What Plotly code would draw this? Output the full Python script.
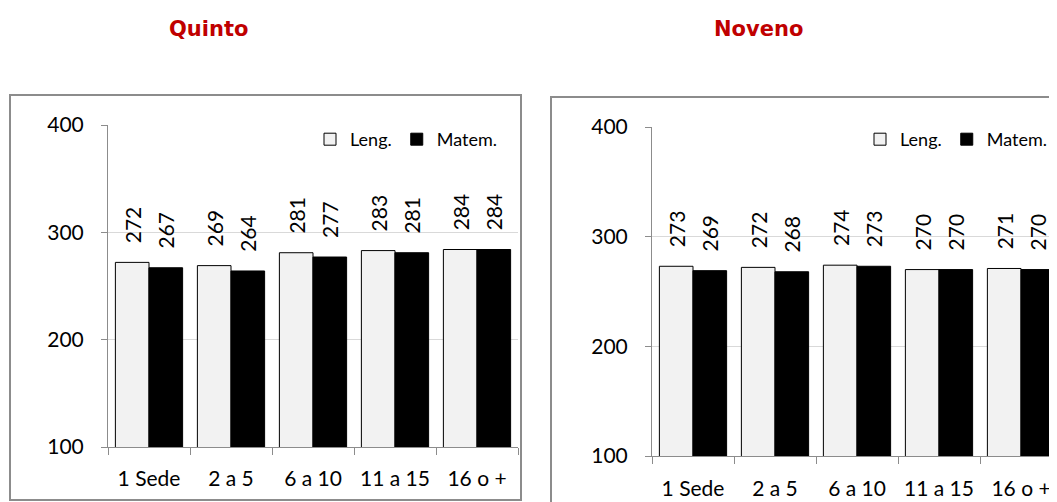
import plotly.graph_objects as go

categories = ["1 Sede", "2 a 5", "6 a 10", "11 a 15", "16 o +"]
quinto_leng = [272, 269, 281, 283, 284]
quinto_matem = [267, 264, 277, 281, 284]
noveno_leng = [273, 272, 274, 270, 271]
noveno_matem = [269, 268, 273, 270, 270]

# The page body has an 8px margin, so the figure starts at (8, 8) in the window.
OFF = 8
W, H = 1057 - OFF, 502 - OFF
def px(x):
    return (x - OFF) / W
def py(y):
    return (H - (y - OFF)) / H

FONT = "Lato"
LENG_COLOR = "#f2f2f2"
MATEM_COLOR = "#000000"
AXIS_COLOR = "#8c8c8c"

fig = go.Figure()

def add_pair(leng, matem, xa, ya, legend):
    for name, vals, col in (("Leng.", leng, LENG_COLOR), ("Matem.", matem, MATEM_COLOR)):
        fig.add_trace(go.Bar(
            x=categories, y=vals, name=name, xaxis=xa, yaxis=ya,
            marker=dict(color=col, line=dict(color="#000000", width=1)),
            text=vals, texttemplate="\u00a0\u00a0\u00a0%{y}", textposition="outside",
            textangle=-90, constraintext="none", cliponaxis=False,
            textfont=dict(family=FONT, size=21, color="#000000"),
            legend=legend, showlegend=True,
        ))

add_pair(quinto_leng, quinto_matem, "x", "y", "legend")
add_pair(noveno_leng, noveno_matem, "x2", "y2", "legend2")

axis_common = dict(showline=True, linecolor=AXIS_COLOR, linewidth=1,
                   ticks="outside", tickcolor=AXIS_COLOR, automargin=False,
                   tickfont=dict(family=FONT, size=21, color="#000000"))

legend_common = dict(orientation="h", yanchor="top", xanchor="right",
                     font=dict(family=FONT, size=18), bgcolor="rgba(255,255,255,1)",
                     itemwidth=30, tracegroupgap=0, traceorder="normal")

fig.update_layout(
    width=W, height=H, autosize=False,
    margin=dict(l=0, r=0, t=0, b=0, pad=0, autoexpand=False),
    paper_bgcolor="white", plot_bgcolor="white",
    barmode="group", bargap=0.18, bargroupgap=0,
    font=dict(family=FONT, color="#000000"),
    xaxis=dict(domain=[px(108), px(518)], anchor="y", tickson="boundaries",
               ticklen=7, ticklabelstandoff=13, range=[-0.5, 4.5], **axis_common),
    yaxis=dict(domain=[py(447), py(125)], anchor="x", range=[100, 400], dtick=100,
               ticklen=6, ticklabelstandoff=13, showgrid=True, gridcolor="#d9d9d9",
               zeroline=False, **axis_common),
    xaxis2=dict(domain=[px(652), 1.0], anchor="y2", tickson="boundaries",
                ticklen=7, ticklabelstandoff=14, range=[-0.5, -0.5 + (1057 - 652) / 82],
                **axis_common),
    yaxis2=dict(domain=[py(456), py(127)], anchor="x2", range=[100, 400], dtick=100,
                ticklen=6, ticklabelstandoff=13, showgrid=True, gridcolor="#d9d9d9",
                zeroline=False, **axis_common),
    legend=dict(x=px(502), y=py(121), **legend_common),
    legend2=dict(x=px(1052), y=py(121), **legend_common),
    shapes=[
        dict(type="rect", xref="paper", yref="paper", x0=px(10), x1=px(521), y0=py(500), y1=py(95),
             line=dict(color=AXIS_COLOR, width=2), fillcolor="rgba(0,0,0,0)", layer="below"),
        dict(type="rect", xref="paper", yref="paper", x0=px(551), x1=1.05, y0=-0.05, y1=py(97),
             line=dict(color=AXIS_COLOR, width=2), fillcolor="rgba(0,0,0,0)", layer="below"),
    ],
    annotations=[
        dict(text="<b>Quinto</b>", x=px(208), y=py(29), xref="paper", yref="paper",
             xanchor="center", yanchor="middle", showarrow=False,
             font=dict(family="DejaVu Sans", size=21, color="#C00000")),
        dict(text="<b>Noveno</b>", x=px(758), y=py(29), xref="paper", yref="paper",
             xanchor="center", yanchor="middle", showarrow=False,
             font=dict(family="DejaVu Sans", size=21, color="#C00000")),
    ],
)

fig.write_html("out.html")
